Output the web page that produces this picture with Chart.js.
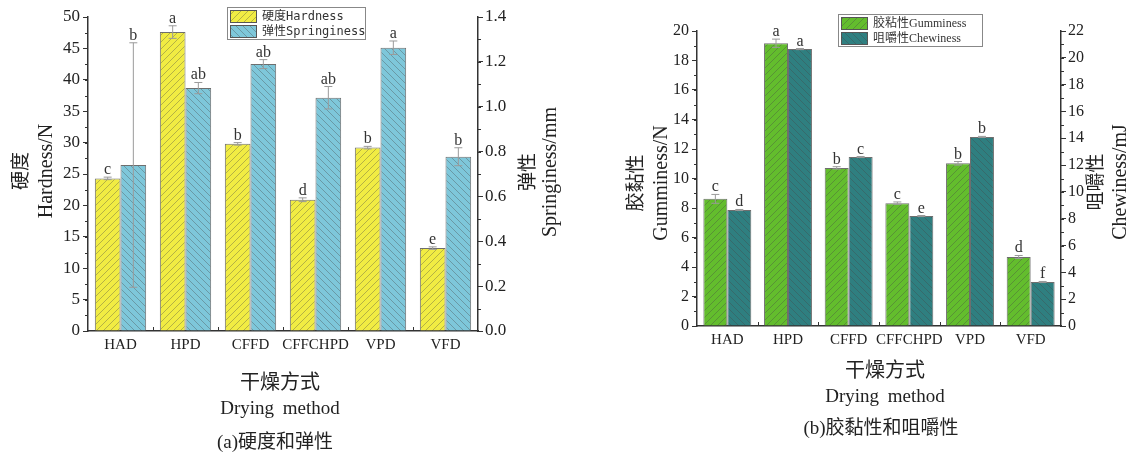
<!DOCTYPE html>
<html>
<head>
<meta charset="utf-8">
<script src="https://cdn.jsdelivr.net/npm/chart.js@4.4.1/dist/chart.umd.min.js"></script>
<style>
body{margin:0;background:#fff;width:1132px;height:453px;position:relative;overflow:hidden;
  font-family:"Liberation Serif","Noto Sans CJK SC",serif;color:#222}
.box{position:absolute;top:0;height:453px}
.t{position:absolute;white-space:nowrap;transform:translate(-50%,-50%);line-height:1}
.rot{transform:translate(-50%,-50%) rotate(-90deg)}
</style>
</head>
<body>
<div class="box" style="left:0;width:560px"><canvas id="chartA" width="560" height="453"></canvas></div>
<div class="box" style="left:560px;width:572px"><canvas id="chartB" width="572" height="453"></canvas></div>

<!-- axis titles (a) -->
<div class="t rot" style="left:20px;top:171px;font-size:19px">硬度</div>
<div class="t rot" style="left:45px;top:171px;font-size:20px">Hardness/N</div>
<div class="t rot" style="left:527px;top:172px;font-size:19px">弹性</div>
<div class="t rot" style="left:549px;top:172px;font-size:20px">Springiness/mm</div>
<!-- axis titles (b) -->
<div class="t rot" style="left:635px;top:183px;font-size:19px">胶黏性</div>
<div class="t rot" style="left:660px;top:183px;font-size:20px">Gumminess/N</div>
<div class="t rot" style="left:1095px;top:182px;font-size:19px">咀嚼性</div>
<div class="t rot" style="left:1119px;top:182px;font-size:20px">Chewiness/mJ</div>
<!-- captions -->
<div class="t" style="left:280px;top:382px;font-size:20px">干燥方式</div>
<div class="t" style="left:280px;top:407px;font-size:19px;word-spacing:4px">Drying method</div>
<div class="t" style="left:275px;top:441px;font-size:19px">(a)硬度和弹性</div>
<div class="t" style="left:885px;top:370px;font-size:20px">干燥方式</div>
<div class="t" style="left:885px;top:395px;font-size:19px;word-spacing:4px">Drying method</div>
<div class="t" style="left:881px;top:427px;font-size:19px">(b)胶黏性和咀嚼性</div>

<script>
const methods = ['HAD', 'HPD', 'CFFD', 'CFFCHPD', 'VPD', 'VFD'];

const hardness = [24.3, 47.6, 29.8, 20.9, 29.2, 13.2];
const hardnessErr = [0.2, 1.0, 0.2, 0.3, 0.2, 0.2];
const hardnessSig = ['c', 'a', 'b', 'd', 'b', 'e'];

const springiness = [0.74, 1.083, 1.19, 1.04, 1.263, 0.777];
const springinessErr = [0.545, 0.025, 0.02, 0.05, 0.03, 0.04];
const springinessSig = ['b', 'ab', 'ab', 'ab', 'a', 'b'];

const gumminess = [8.62, 19.17, 10.72, 8.33, 11.03, 4.68];
const gumminessErr = [0.3, 0.28, 0.08, 0.08, 0.12, 0.1];
const gumminessSig = ['c', 'a', 'b', 'c', 'b', 'd'];

const chewiness = [8.65, 20.65, 12.6, 8.2, 14.1, 3.28];
const chewinessErr = [0.04, 0.04, 0.04, 0.04, 0.04, 0.04];
const chewinessSig = ['d', 'a', 'c', 'e', 'b', 'f'];

const SERIF = '"Liberation Serif", "Noto Sans CJK SC", serif';

// diagonal hatch fill, dir 1 = "/", -1 = "\"
function hatch(bg, dir) {
    const s = 7;
    const c = document.createElement('canvas');
    c.width = s; c.height = s;
    const g = c.getContext('2d');
    g.fillStyle = bg;
    g.fillRect(0, 0, s, s);
    g.strokeStyle = 'rgba(70,70,70,0.45)';
    g.lineWidth = 0.8;
    g.beginPath();
    if (dir > 0) {
        g.moveTo(0, s); g.lineTo(s, 0);
        g.moveTo(-1, 1); g.lineTo(1, -1);
        g.moveTo(s - 1, s + 1); g.lineTo(s + 1, s - 1);
    } else {
        g.moveTo(0, 0); g.lineTo(s, s);
        g.moveTo(-1, s - 1); g.lineTo(1, s + 1);
        g.moveTo(s - 1, -1); g.lineTo(s + 1, 1);
    }
    g.stroke();
    return g.createPattern(c, 'repeat');
}

// error bars, letters, minor ticks, group ticks and the boxed legend
function extras(cfg) {
    return {
        id: 'extras',
        afterDraw(chart) {
            const ctx = chart.ctx;
            const area = chart.chartArea;
            ctx.save();
            chart.data.datasets.forEach((ds, d) => {
                const meta = chart.getDatasetMeta(d);
                const sc = chart.scales[meta.yAxisID];
                meta.data.forEach((bar, i) => {
                    const v = ds.data[i], e = cfg.err[d][i];
                    const yt = sc.getPixelForValue(v + e);
                    const yb = sc.getPixelForValue(v - e);
                    ctx.strokeStyle = '#9a9a9a';
                    ctx.lineWidth = 1;
                    ctx.beginPath();
                    ctx.moveTo(bar.x, yt); ctx.lineTo(bar.x, yb);
                    ctx.moveTo(bar.x - 4, yt); ctx.lineTo(bar.x + 4, yt);
                    ctx.moveTo(bar.x - 4, yb); ctx.lineTo(bar.x + 4, yb);
                    ctx.stroke();
                    ctx.fillStyle = '#333';
                    ctx.font = '16px ' + SERIF;
                    ctx.textAlign = 'center';
                    ctx.textBaseline = 'alphabetic';
                    ctx.fillText(cfg.sig[d][i], bar.x, Math.min(yt, bar.y) - 3);
                });
            });
            // minor ticks
            ctx.strokeStyle = '#333';
            ctx.lineWidth = 1;
            cfg.minor.forEach(m => {
                const sc = chart.scales[m.id];
                for (let v = sc.min; v <= sc.max + 1e-9; v += m.step) {
                    const y = Math.round(sc.getPixelForValue(v)) + 0.5;
                    const x = m.id === 'y' ? area.left : area.right;
                    const dx = m.id === 'y' ? -3 : 3;
                    ctx.beginPath(); ctx.moveTo(x, y); ctx.lineTo(x + dx, y); ctx.stroke();
                }
            });
            // small ticks between groups
            const cw = (area.right - area.left) / methods.length;
            for (let k = 1; k < methods.length; k++) {
                const x = Math.round(area.left + k * cw) + 0.5;
                ctx.beginPath(); ctx.moveTo(x, area.bottom); ctx.lineTo(x, area.bottom - 4); ctx.stroke();
            }
            // legend
            const L = cfg.legend;
            ctx.fillStyle = '#fff';
            ctx.fillRect(L.x, L.y, L.w, L.h);
            ctx.strokeStyle = '#888';
            ctx.strokeRect(L.x + 0.5, L.y + 0.5, L.w, L.h);
            chart.data.datasets.forEach((ds, d) => {
                const ry = L.y + 3 + d * 15;
                ctx.fillStyle = ds.backgroundColor;
                ctx.fillRect(L.x + 3, ry, 26, 12);
                ctx.strokeStyle = '#555';
                ctx.strokeRect(L.x + 3.5, ry + 0.5, 26, 12);
                ctx.fillStyle = '#333';
                ctx.font = L.font;
                ctx.textAlign = 'left';
                ctx.textBaseline = 'middle';
                ctx.fillText(ds.label, L.x + 35, ry + 7);
            });
            ctx.restore();
        }
    };
}

function makeChart(id, cfg) {
    const fit = (w) => (scale) => { scale.width = w; };
    return new Chart(document.getElementById(id), {
        type: 'bar',
        data: {
            labels: methods,
            datasets: [
                {
                    label: cfg.labels[0], data: cfg.data[0], yAxisID: 'y',
                    backgroundColor: hatch(cfg.colors[0], 1),
                    borderColor: '#6e6e6e', borderWidth: 1
                },
                {
                    label: cfg.labels[1], data: cfg.data[1], yAxisID: 'y1',
                    backgroundColor: hatch(cfg.colors[1], -1),
                    borderColor: '#6e6e6e', borderWidth: 1
                }
            ]
        },
        options: {
            responsive: false,
            animation: false,
            devicePixelRatio: 1,
            categoryPercentage: 0.79,
            barPercentage: 1,
            layout: { padding: { top: cfg.top, left: 0, right: 0, bottom: 0 } },
            plugins: { legend: { display: false }, tooltip: { enabled: false } },
            scales: {
                x: {
                    grid: { display: false, drawTicks: false, tickLength: 0 },
                    border: { display: true, color: '#333', width: 1.5 },
                    ticks: {
                        color: '#222', padding: 5, maxRotation: 0, minRotation: 0, autoSkip: false,
                        font: { family: SERIF, size: 15 }
                    },
                    afterFit: (s) => { s.height = cfg.xh; }
                },
                y: {
                    position: 'left', min: 0, max: cfg.left.max,
                    grid: { drawOnChartArea: false, color: '#333', tickLength: 5 },
                    border: { display: true, color: '#333', width: 1.5 },
                    ticks: {
                        stepSize: cfg.left.step, color: '#222', padding: 3,
                        font: { family: SERIF, size: cfg.tickSize }
                    },
                    afterFit: fit(cfg.lw)
                },
                y1: {
                    position: 'right', min: 0, max: cfg.right.max,
                    grid: { drawOnChartArea: false, color: '#333', tickLength: 5 },
                    border: { display: true, color: '#333', width: 1.5 },
                    ticks: {
                        stepSize: cfg.right.step, color: '#222', padding: 2,
                        font: { family: SERIF, size: cfg.tickSize },
                        callback: (v) => cfg.right.fmt(v)
                    },
                    afterFit: fit(cfg.rw)
                }
            }
        },
        plugins: [extras(cfg)]
    });
}

makeChart('chartA', {
    labels: ['硬度Hardness', '弹性Springiness'],
    data: [hardness, springiness],
    err: [hardnessErr, springinessErr],
    sig: [hardnessSig, springinessSig],
    colors: ['#f1ec43', '#7ec7da'],
    top: 17, xh: 122, lw: 88, rw: 82, tickSize: 17,
    left: { max: 50, step: 5 },
    right: { max: 1.4, step: 0.2, fmt: (v) => v.toFixed(1) },
    minor: [{ id: 'y', step: 2.5 }, { id: 'y1', step: 0.1 }],
    legend: { x: 227, y: 7, w: 138, h: 32, font: '12px "DejaVu Sans Mono", "Noto Sans CJK SC", monospace' }
});

makeChart('chartB', {
    labels: ['胶粘性Gumminess', '咀嚼性Chewiness'],
    data: [gumminess, chewiness],
    err: [gumminessErr, chewinessErr],
    sig: [gumminessSig, chewinessSig],
    colors: ['#63bd2d', '#2f7f80'],
    top: 31, xh: 127, lw: 137, rw: 71, tickSize: 16,
    left: { max: 20, step: 2 },
    right: { max: 22, step: 2, fmt: (v) => String(v) },
    minor: [{ id: 'y', step: 1 }, { id: 'y1', step: 1 }],
    legend: { x: 278, y: 14, w: 144, h: 32, font: '12px "Liberation Serif", "Noto Sans CJK SC", serif' }
});
</script>
</body>
</html>
